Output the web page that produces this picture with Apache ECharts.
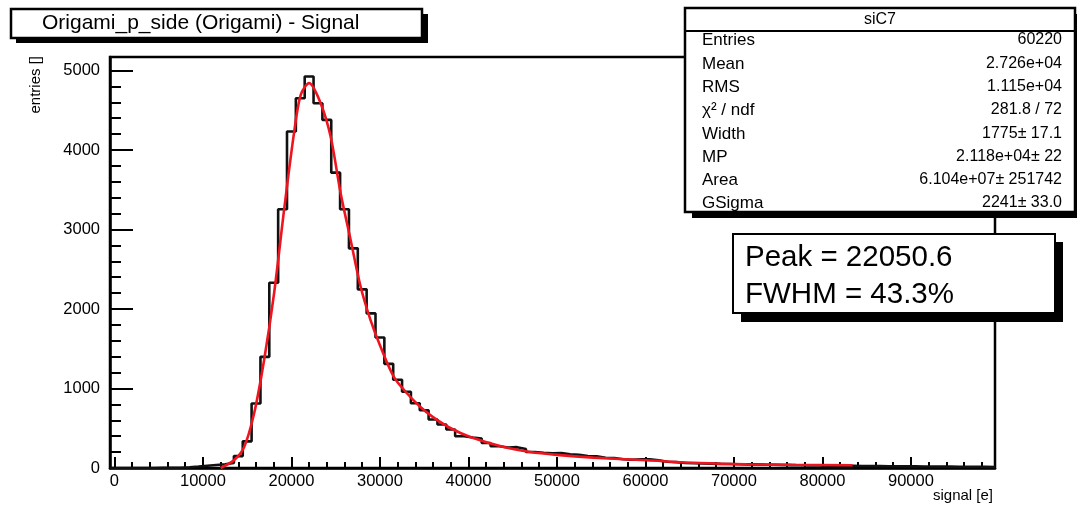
<!DOCTYPE html>
<html>
<head>
<meta charset="utf-8">
<script src="https://cdn.jsdelivr.net/npm/echarts@6/dist/echarts.min.js"></script>
<style>
html, body { margin: 0; padding: 0; background: #fff; }
#chart { width: 1077px; height: 510px; }
</style>
</head>
<body>
<div id="chart"></div>
<script>
var myChart = echarts.init(document.getElementById('chart'));

// histogram: 100 bins of 1000 e, first bin centred on 0
var binLow = -500;
var binWidth = 1000;
var counts = [
    0, 0, 0, 0, 0, 1, 2, 4, 10, 18,
    28, 38, 48, 62, 150, 335, 811, 1398, 2330, 3254,
    4232, 4652, 4924, 4589, 4379, 3715, 3254, 2763, 2247, 1945,
    1642, 1310, 1110, 960, 815, 727, 610, 547, 484, 399,
    383, 370, 315, 273, 257, 262, 240, 201, 192, 186,
    188, 172, 166, 150, 146, 128, 124, 110, 104, 108,
    110, 96, 78, 74, 62, 60, 58, 55, 52, 50,
    48, 45, 46, 42, 40, 38, 36, 35, 33, 32,
    30, 30, 28, 27, 26, 25, 24, 22, 22, 20,
    20, 19, 18, 17, 17, 16, 15, 15, 14, 13
];

// fit curve (Landau x Gauss)
var fitX = [12000, 13500, 14660, 15780, 16910, 18040, 19170, 20290, 21050, 22000,
            23300, 24430, 25560, 26690, 27820, 28940, 30070, 31570, 33080, 34580,
            36000, 38000, 40210, 43990, 46980, 50000, 54110, 60130, 66140, 71410,
            77000, 83400];
var fitY = [0, 97, 265, 685, 1356, 2196, 3246, 4212, 4694, 4841,
            4589, 4169, 3456, 2868, 2280, 1860, 1524, 1146, 937, 768,
            640, 500, 390, 264, 201, 165, 131, 97, 63, 47,
            40, 34];

var xMajor = [0, 10000, 20000, 30000, 40000, 50000, 60000, 70000, 80000, 90000];
var yMajor = [0, 1000, 2000, 3000, 4000, 5000];

var statsNames = ['Entries', 'Mean', 'RMS', 'χ² / ndf', 'Width', 'MP', 'Area', 'GSigma'];
var statsValues = ['60220', '2.726e+04', '1.115e+04', '281.8 / 72', '1775± 17.1',
                   '2.118e+04± 22', '6.104e+07± 251742', '2241± 33.0'];

var xMin = binLow, xMax = binLow + counts.length * binWidth;

var histData = counts.map(function (c, i) { return [binLow + i * binWidth, c]; });
histData.push([xMax, counts[counts.length - 1]]);

var fitData = fitX.map(function (x, i) { return [x, fitY[i]]; });

var xMinor = [];
for (var v = 0; v < xMax; v += 2000) xMinor.push(v);
var yMinor = [];
for (var w = 0; w <= 5000; w += 200) yMinor.push(w);

var font = 'Liberation Sans';
var plain = function (val) { return String(val); };

// stats box
var statsGraphics = [
    { type: 'rect', shape: { x: 692, y: 14, width: 400, height: 204 }, style: { fill: '#000' }, z: 100 },
    { type: 'rect', shape: { x: 685, y: 8, width: 390, height: 204 }, style: { fill: '#fff', stroke: '#000', lineWidth: 2.5 }, z: 101 },
    { type: 'line', shape: { x1: 685, y1: 31, x2: 1075, y2: 31 }, style: { stroke: '#000', lineWidth: 2 }, z: 102 },
    { type: 'text', x: 880, y: 20, style: { text: 'siC7', font: '16px ' + font, fill: '#000', align: 'center', verticalAlign: 'middle' }, z: 102 }
];
var rowY = [40, 64, 87, 110, 134, 157, 180, 203];
statsNames.forEach(function (n, i) {
    statsGraphics.push({ type: 'text', x: 702, y: rowY[i], style: { text: n, font: '17px ' + font, fill: '#000', align: 'left', verticalAlign: 'middle' }, z: 102 });
    statsGraphics.push({ type: 'text', x: 1062, y: rowY[i], style: { text: statsValues[i], font: '16px ' + font, fill: '#000', align: 'right', verticalAlign: 'middle' }, z: 102 });
});

var option = {
    animation: false,
    backgroundColor: '#fff',
    grid: {
        left: 110,
        right: 82,
        top: 57,
        bottom: 42,
        show: true,
        borderColor: '#000',
        borderWidth: 2.5,
        backgroundColor: '#fff'
    },
    xAxis: [
        {
            type: 'value',
            min: xMin,
            max: xMax,
            position: 'bottom',
            axisLine: { show: true, onZero: false, lineStyle: { color: '#000', width: 2.5 } },
            axisTick: { show: true, inside: true, length: 11, customValues: xMajor, lineStyle: { color: '#000', width: 2 } },
            axisLabel: { customValues: xMajor, formatter: plain, color: '#000', fontSize: 16.5, fontFamily: font, margin: 5 },
            splitLine: { show: false }
        },
        {
            type: 'value',
            min: xMin,
            max: xMax,
            position: 'bottom',
            axisLine: { show: false, onZero: false },
            axisTick: { show: true, inside: true, length: 6, customValues: xMinor, lineStyle: { color: '#000', width: 2 } },
            axisLabel: { show: false },
            splitLine: { show: false }
        }
    ],
    yAxis: [
        {
            type: 'value',
            min: 0,
            max: 5170,
            position: 'left',
            axisLine: { show: true, onZero: false, lineStyle: { color: '#000', width: 2.5 } },
            axisTick: { show: true, inside: true, length: 23, customValues: yMajor, lineStyle: { color: '#000', width: 2 } },
            axisLabel: { customValues: yMajor, formatter: plain, color: '#000', fontSize: 16.5, fontFamily: font, margin: 10 },
            splitLine: { show: false }
        },
        {
            type: 'value',
            min: 0,
            max: 5170,
            position: 'left',
            axisLine: { show: false, onZero: false },
            axisTick: { show: true, inside: true, length: 11, customValues: yMinor, lineStyle: { color: '#000', width: 2 } },
            axisLabel: { show: false },
            splitLine: { show: false }
        }
    ],
    series: [
        {
            name: 'siC7',
            type: 'line',
            step: 'end',
            data: histData,
            symbol: 'none',
            lineStyle: { color: '#111', width: 2.6 },
            z: 3
        },
        {
            name: 'fit',
            type: 'line',
            smooth: 0.3,
            data: fitData,
            symbol: 'none',
            lineStyle: { color: '#f0141e', width: 2.6 },
            z: 4
        }
    ],
    graphic: [
        // title box
        { type: 'rect', shape: { x: 16, y: 14, width: 412, height: 29 }, style: { fill: '#000' }, z: 100 },
        { type: 'rect', shape: { x: 11, y: 9, width: 411, height: 29 }, style: { fill: '#fff', stroke: '#000', lineWidth: 2.5 }, z: 101 },
        { type: 'text', x: 42, y: 23, style: { text: 'Origami_p_side (Origami) - Signal', font: '21px ' + font, fill: '#000', align: 'left', verticalAlign: 'middle' }, z: 102 },
        // axis titles
        { type: 'text', x: 36, y: 56, rotation: Math.PI / 2, style: { text: 'entries []', font: '15px ' + font, fill: '#000', align: 'right', verticalAlign: 'middle' }, z: 102 },
        { type: 'text', x: 993, y: 496, style: { text: 'signal [e]', font: '15px ' + font, fill: '#000', align: 'right', verticalAlign: 'middle' }, z: 102 },
        // peak box
        { type: 'rect', shape: { x: 741, y: 242, width: 322, height: 80 }, style: { fill: '#000' }, z: 100 },
        { type: 'rect', shape: { x: 733, y: 234, width: 322, height: 79 }, style: { fill: '#fff', stroke: '#000', lineWidth: 2 }, z: 101 },
        { type: 'text', x: 745, y: 258, style: { text: 'Peak = 22050.6', font: '29.5px ' + font, fill: '#000', align: 'left', verticalAlign: 'middle' }, z: 102 },
        { type: 'text', x: 745, y: 295, style: { text: 'FWHM = 43.3%', font: '29.5px ' + font, fill: '#000', align: 'left', verticalAlign: 'middle' }, z: 102 }
    ].concat(statsGraphics)
};

myChart.setOption(option);
</script>
</body>
</html>
